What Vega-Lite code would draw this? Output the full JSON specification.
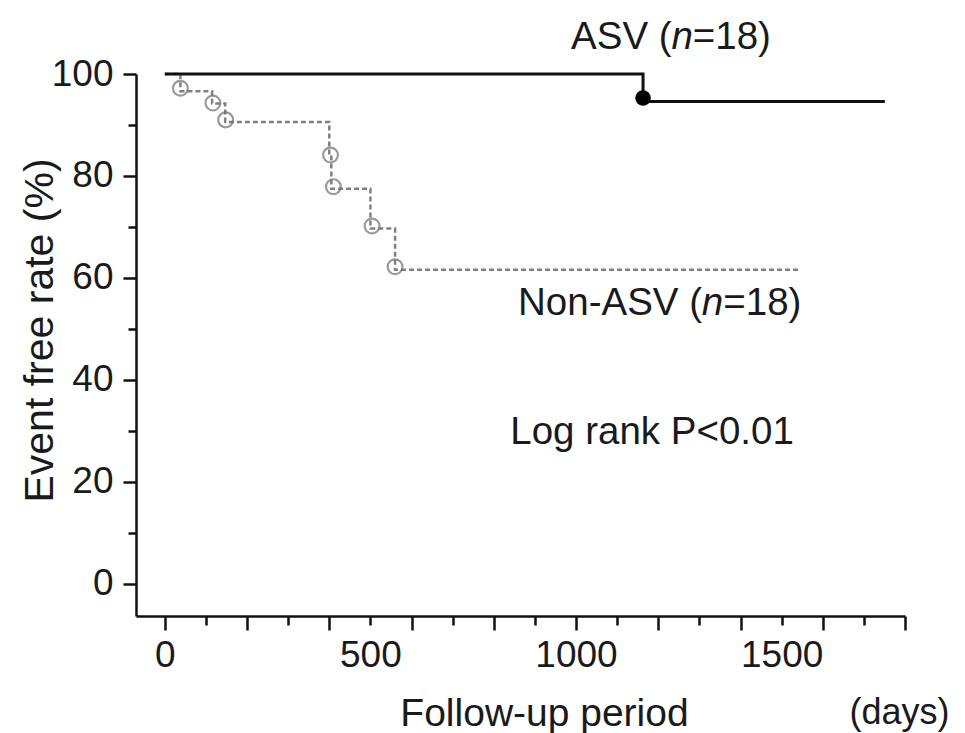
{
  "$schema": "https://vega.github.io/schema/vega-lite/v6.json",
  "width": 769,
  "height": 542,
  "autosize": "none",
  "padding": {"left": 136, "top": 74, "right": 60, "bottom": 117},
  "background": "white",
  "config": {
    "view": {"stroke": null},
    "font": "Liberation Sans",
    "axis": {
      "domainColor": "#111111",
      "domainWidth": 2.5,
      "tickColor": "#111111",
      "tickWidth": 2.5,
      "labelFont": "Liberation Sans",
      "labelFontSize": 37,
      "labelColor": "#1a1a1a",
      "labelFlush": false,
      "labelOverlap": false,
      "titleFont": "Liberation Sans",
      "titleFontSize": 39,
      "titleFontWeight": "normal",
      "titleColor": "#1a1a1a",
      "grid": false
    }
  },
  "datasets": {
    "nonasv": [
      {"day": 0, "rate": 100},
      {"day": 38, "rate": 96.6},
      {"day": 115, "rate": 94.2},
      {"day": 147, "rate": 90.6},
      {"day": 400, "rate": 84.2},
      {"day": 405, "rate": 77.5},
      {"day": 500, "rate": 69.7},
      {"day": 560, "rate": 61.6},
      {"day": 1545, "rate": 61.6}
    ],
    "asv": [
      {"day": 0, "rate": 100},
      {"day": 1163, "rate": 94.6},
      {"day": 1751, "rate": 94.6}
    ],
    "events": [
      {"day": 38, "rate": 97.2},
      {"day": 117, "rate": 94.3},
      {"day": 148, "rate": 91.0},
      {"day": 403, "rate": 84.1},
      {"day": 410, "rate": 77.9},
      {"day": 504, "rate": 70.2},
      {"day": 560, "rate": 62.2}
    ],
    "asvevent": [
      {"day": 1163, "rate": 95.3}
    ],
    "labels": [
      {"day": 988, "rate": 107.3, "text": "ASV ("},
      {"day": 1284, "rate": 107.3, "text": "=18)"},
      {"day": 859, "rate": 55.1, "text": "Non-ASV ("},
      {"day": 1358, "rate": 55.1, "text": "=18)"},
      {"day": 840, "rate": 29.8, "text": "Log rank P<0.01"}
    ],
    "italic": [
      {"day": 1232, "rate": 107.3, "text": "n"},
      {"day": 1306, "rate": 55.1, "text": "n"}
    ]
  },
  "layer": [
    {
      "data": {"name": "nonasv"},
      "mark": {"type": "line", "interpolate": "step-after", "color": "#808080", "strokeWidth": 2.5, "strokeDash": [5, 3]},
      "encoding": {
        "x": {"field": "day", "type": "quantitative",
          "scale": {"domain": [-70, 1800], "nice": false, "zero": false},
          "axis": {"orient": "bottom", "values": [100, 300, 500, 700, 900, 1100, 1300, 1500, 1700], "tickSize": 9, "labels": false, "domain": false,
            "title": "(days)", "titleFontSize": 36, "titleX": 763, "titleY": 107, "titleAlign": "center", "titleBaseline": "alphabetic"}},
        "y": {"field": "rate", "type": "quantitative",
          "scale": {"domain": [-6.3, 100], "nice": false, "zero": false},
          "axis": {"orient": "left", "values": [10, 30, 50, 70, 90], "tickSize": 8, "labels": false, "domain": false, "title": null}}
      }
    },
    {
      "data": {"name": "asv"},
      "mark": {"type": "line", "interpolate": "step-after", "color": "#111111", "strokeWidth": 3},
      "encoding": {
        "x": {"field": "day", "type": "quantitative",
          "scale": {"domain": [-70, 1800], "nice": false, "zero": false},
          "axis": {"orient": "bottom", "values": [0, 200, 400, 600, 800, 1000, 1200, 1400, 1600, 1800], "tickSize": 14, "labels": false, "domain": true,
            "title": "Follow-up period", "titleX": 408, "titleY": 109, "titleAlign": "center", "titleBaseline": "alphabetic"}},
        "y": {"field": "rate", "type": "quantitative",
          "scale": {"domain": [-6.3, 100], "nice": false, "zero": false},
          "axis": {"orient": "left", "values": [0, 20, 40, 60, 80, 100], "tickSize": 13, "labelPadding": 10, "domain": true,
            "title": "Event free rate (%)", "titleFontSize": 41, "titleX": -96, "titleY": 256, "titleAngle": 270, "titleAlign": "center", "titleBaseline": "middle"}}
      }
    },
    {
      "data": {"name": "events"},
      "mark": {"type": "point", "shape": "circle", "filled": false, "stroke": "#707070", "strokeWidth": 2.2, "size": 220},
      "encoding": {
        "x": {"field": "day", "type": "quantitative",
          "scale": {"domain": [-70, 1800], "nice": false, "zero": false},
          "axis": {"orient": "bottom", "values": [0, 500, 1000, 1500], "format": "d", "tickSize": 14, "tickOpacity": 0, "labelPadding": 7, "domain": false, "title": null}},
        "y": {"field": "rate", "type": "quantitative", "axis": null}
      }
    },
    {
      "data": {"name": "asvevent"},
      "mark": {"type": "point", "shape": "circle", "filled": true, "color": "#000000", "opacity": 1, "size": 240},
      "encoding": {
        "x": {"field": "day", "type": "quantitative", "axis": null},
        "y": {"field": "rate", "type": "quantitative", "axis": null}
      }
    },
    {
      "data": {"name": "labels"},
      "mark": {"type": "text", "align": "left", "baseline": "middle", "fontSize": 38.5, "font": "Liberation Sans", "color": "#1a1a1a"},
      "encoding": {
        "x": {"field": "day", "type": "quantitative", "axis": null},
        "y": {"field": "rate", "type": "quantitative", "axis": null},
        "text": {"field": "text"}
      }
    },
    {
      "data": {"name": "italic"},
      "mark": {"type": "text", "align": "left", "baseline": "middle", "fontSize": 38.5, "font": "Liberation Sans", "fontStyle": "italic", "color": "#1a1a1a"},
      "encoding": {
        "x": {"field": "day", "type": "quantitative", "axis": null},
        "y": {"field": "rate", "type": "quantitative", "axis": null},
        "text": {"field": "text"}
      }
    }
  ],
  "resolve": {"axis": {"x": "independent", "y": "independent"}}
}
